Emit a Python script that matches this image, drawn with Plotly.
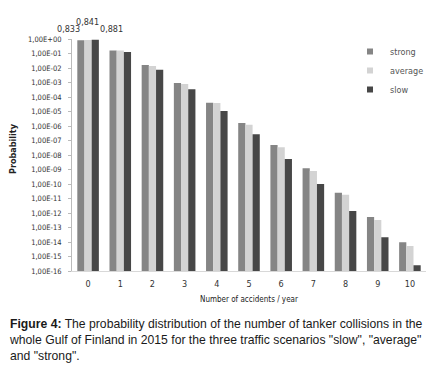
import plotly.graph_objects as go

categories = list(range(11))
cat_labels = [str(c) for c in categories]
strong = [0.833, 0.16, 0.016, 9.3e-4, 4.0e-5, 1.6e-6, 4.9e-8, 1.2e-9, 2.5e-11, 5.3e-13, 9.5e-15]
average = [0.841, 0.158, 0.0138, 7.9e-4, 3.9e-5, 1.2e-6, 3.4e-8, 7.9e-10, 1.8e-11, 3.3e-13, 5.3e-15]
slow = [0.881, 0.125, 0.0076, 3.4e-4, 1.1e-5, 2.7e-7, 5.3e-9, 1.0e-10, 1.4e-12, 2.1e-14, 2.5e-16]
series_names = ["strong", "average", "slow"]
series_colors = ["#858585", "#d3d3d3", "#474747"]
y_exponents = list(range(0, -17, -1))
y_ticktext = ["1,00E+00"] + ["1,00E-%02d" % (-e) for e in y_exponents[1:]]
label_texts = ["0,833", "0,841", "0,881"]

FONT = "Liberation Sans Narrow, DejaVu Sans Condensed, Arial Narrow, sans-serif"

OFF = 8  # default page body margin
W, H = 436 - OFF, 367 - OFF
# plot area in window pixels: x 72..426, y 39..271
L, T = 72 - OFF, 39 - OFF
R = W - (426 - OFF)
B = H - (271 - OFF)
pw, ph = W - L - R, H - T - B

def px_x(px):
    return (px - OFF - L) / pw

def px_y(py):
    return (H - B - (py - OFF)) / ph

fig = go.Figure()
for name, vals, col in zip(series_names, [strong, average, slow], series_colors):
    fig.add_trace(go.Bar(x=categories, y=vals, name=name, marker_color=col,
                         marker_line_width=0, showlegend=False, cliponaxis=False))
for i, (name, col) in enumerate(zip(series_names, series_colors)):
    fig.add_trace(go.Scatter(x=[None], y=[None], mode="markers", name=name,
                             legendgroup="g%d" % i,
                             marker=dict(symbol="square", size=6, color=col)))

# data labels over first group
offsets = [(-20, 10), (-1, 17), (23, 10)]
for txt, v, (dx, dy) in zip(label_texts, [strong[0], average[0], slow[0]], offsets):
    fig.add_annotation(x=categories[0], y=0, xref="x", yref="y", text=txt,
                       showarrow=False, xshift=dx, yshift=dy,
                       font=dict(family=FONT, size=9, color="#333333"))

fig.add_annotation(x=px_x(13), y=px_y(149), xref="paper", yref="paper",
                   xanchor="center", yanchor="middle",
                   text="<b>Probability</b>", textangle=-90, showarrow=False,
                   font=dict(family=FONT, size=9, color="#222222"))
fig.add_annotation(x=px_x(249), y=px_y(299), xref="paper", yref="paper",
                   xanchor="center", yanchor="middle",
                   text="Number of accidents / year", showarrow=False,
                   font=dict(family=FONT, size=8, color="#222222"))
fig.add_annotation(x=px_x(8), y=px_y(316), xref="paper", yref="paper",
                   xanchor="left", yanchor="top", align="left", borderpad=0,
                   text="<b>Figure 4:</b> The probability distribution of the number of tanker collisions in the<br>"
                        "whole Gulf of Finland in 2015 for the three traffic scenarios \"slow\", \"average\"<br>"
                        "and \"strong\".",
                   showarrow=False,
                   font=dict(family="Liberation Sans, Arial, sans-serif", size=12.2, color="#1a1a1a"))

fig.update_layout(
    width=W, height=H,
    margin=dict(l=L, r=R, t=T, b=B, autoexpand=False),
    paper_bgcolor="white", plot_bgcolor="white",
    barmode="group", bargap=0.33, bargroupgap=0,
    showlegend=True,
    legend=dict(x=px_x(350), y=px_y(37), xanchor="left", yanchor="top",
                font=dict(family=FONT, size=9, color="#555555"),
                bgcolor="rgba(0,0,0,0)", tracegroupgap=0, itemwidth=30),
    xaxis=dict(range=[-0.5, 10.5], tickvals=categories, ticktext=cat_labels,
               showgrid=False, zeroline=False, showline=True, linecolor="#d8d8d8",
               linewidth=1, ticks="", ticklabelstandoff=4,
               tickfont=dict(family=FONT, size=9, color="#333333")),
    yaxis=dict(type="log", range=[-16, 0], tickvals=[10.0 ** e for e in y_exponents],
               ticktext=y_ticktext, showgrid=False, zeroline=False, showline=True,
               linecolor="#bbbbbb", linewidth=1, ticks="outside", ticklen=3,
               tickcolor="#bbbbbb", ticklabelstandoff=5,
               tickfont=dict(family=FONT, size=7.5, color="#333333")),
)

fig.write_html("out.html")
